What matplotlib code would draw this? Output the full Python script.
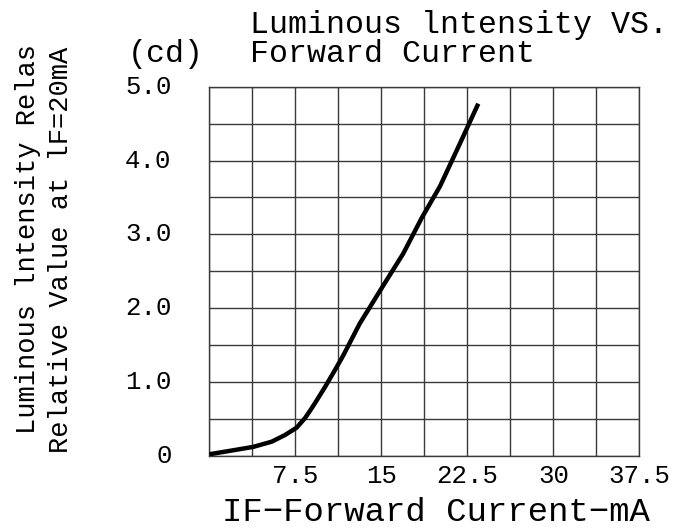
import matplotlib
matplotlib.use("Agg")
import matplotlib.pyplot as plt
import numpy as np

plt.rcParams['font.family'] = ['Liberation Mono', 'DejaVu Sans Mono']

# curve
current_mA = [0, 1.93, 3.82, 5.42, 6.58, 7.6, 8.33, 8.9, 9.35, 10.07, 10.94, 11.67,
              13.1, 15.01, 16.9, 18.5, 20.1, 21.84, 23.44]
intensity = [0.02, 0.07, 0.12, 0.19, 0.28, 0.38, 0.51, 0.64, 0.75, 0.93, 1.16, 1.36,
             1.79, 2.27, 2.74, 3.22, 3.65, 4.23, 4.77]

x_ticks = [7.5, 15, 22.5, 30, 37.5]
x_labels = ["7.5", "15", "22.5", "30", "37.5"]
y_ticks = [0, 1, 2, 3, 4, 5]
y_labels = ["0", "1.0", "2.0", "3.0", "4.0", "5.0"]

fig = plt.figure(figsize=(6.88, 5.28), dpi=100)
ax = fig.add_axes([0.3045, 0.1369, 0.625, 0.6989])

ax.plot(current_mA, intensity, color="black", linewidth=3.2,
        solid_joinstyle="round", solid_capstyle="butt", zorder=3)

ax.set_xlim(0, 37.5)
ax.set_ylim(0, 5)
ax.set_xticks(np.arange(0, 37.5 + 0.01, 3.75))
ax.set_yticks(np.arange(0, 5.01, 0.5))
ax.grid(True, color="#3a3a3a", linewidth=1.0)
ax.tick_params(length=0, labelbottom=False, labelleft=False)
for s in ax.spines.values():
    s.set_color("#3a3a3a")
    s.set_linewidth(1.0)

# tick labels on the major values only
for xv, lab in zip(x_ticks, x_labels):
    ax.text(xv, -0.022, lab, ha="center", va="top", fontsize=18.5,
            transform=ax.get_xaxis_transform())
for yv, lab in zip(y_ticks, y_labels):
    ax.text(-0.088, yv, lab, ha="right", va="center", fontsize=18.5,
            transform=ax.get_yaxis_transform())

fig.text(0.363, 0.9375, "Luminous lntensity VS.", fontsize=22.8, ha="left", va="baseline")
fig.text(0.363, 0.882, "Forward Current", fontsize=22.8, ha="left", va="baseline")
fig.text(0.185, 0.882, "(cd)", fontsize=22.8, ha="left", va="baseline")

fig.text(0.634, 0.014, "IF\u2212Forward Current\u2212mA", fontsize=24.5, ha="center", va="baseline")

fig.text(0.040, 0.547, "Luminous lntensity Relas", fontsize=19.5, rotation=90, ha="center", va="center")
fig.text(0.088, 0.527, "Relative Value at lF=20mA", fontsize=19.5, rotation=90, ha="center", va="center")

fig.savefig("out.png", dpi=100)
